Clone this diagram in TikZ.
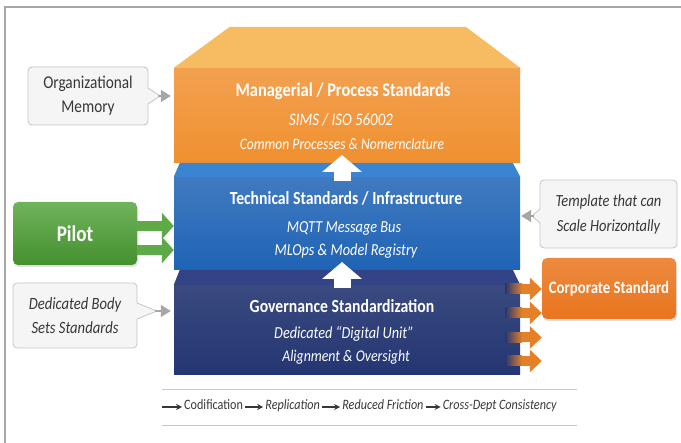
\documentclass[tikz,border=0pt]{standalone}
\usepackage{fontspec}
\setmainfont{Carlito}[FakeStretch=0.85]
\usetikzlibrary{positioning,arrows.meta,shadows}

\definecolor{mgrfront}{RGB}{240,144,48}
\definecolor{mgrtop}{RGB}{247,188,98}
\definecolor{techfront}{RGB}{31,99,181}
\definecolor{techtop}{RGB}{58,132,210}
\definecolor{govfront}{RGB}{36,54,114}
\definecolor{govtop}{RGB}{50,68,134}
\definecolor{pilotgreen}{RGB}{76,160,52}
\definecolor{corporange}{RGB}{233,117,30}
\definecolor{outarrow}{RGB}{228,128,40}
\definecolor{flowgray}{RGB}{55,55,55}
\definecolor{notefill}{RGB}{245,245,245}
\definecolor{noteline}{RGB}{196,196,196}

\tikzset{
  front/.style={minimum width=346pt, inner sep=0pt},
  headline/.style={text=white, font=\bfseries\fontsize{18.5}{20}\selectfont},
  subline/.style={text=white, font=\itshape\fontsize{16.8}{18}\selectfont},
  note/.style={fill=notefill, draw=noteline, line width=0.8pt, rounded corners=4pt,
    align=center, text=flowgray, inner sep=0pt, font=\fontsize{17}{24}\selectfont},
  notetip/.style={gray!70, line width=1.5pt, -{Triangle[length=10pt,width=12pt]}},
  uparrow/.style={white, line width=17pt, -{Triangle[length=17pt,width=39pt]}},
  pilotarrow/.style={pilotgreen!90!white, line width=10pt, -{Triangle[length=12pt,width=26pt]}},
  corparrow/.style={outarrow, line width=10pt, -{Triangle[length=12pt,width=22pt]}},
  flow/.style={text=flowgray, inner sep=2pt, text height=1.6ex, text depth=0.5ex,
    font=\fontsize{14.3}{16}\selectfont},
  flowarrow/.style={flowgray, line width=1.3pt, -{Stealth[length=6pt,width=6pt]}},
}

\begin{document}
\begin{tikzpicture}[x=1pt,y=-1pt]
\useasboundingbox (0,0) rectangle (681,443);
\draw[gray!70, line width=1.3pt] (5,443) -- (5,7) -- (681,7);

% three stacked blocks
\node[front, minimum height=95pt, top color=mgrfront!85!white, bottom color=mgrfront] (mgr) at (347,115.5) {};
\node[front, minimum height=93pt, top color=techfront!85!white, bottom color=techfront] (tech) at (347,223.5) {};
\node[front, minimum height=90pt, top color=govfront!90!white, bottom color=govfront] (gov) at (347,330) {};

\fill[mgrtop] (mgr.north west) -- ++(56,-41) -- ++(236,0) -- (mgr.north east) -- cycle;
\fill[techtop] (tech.north west) -- ++(6,-14) -- ++(333,0) -- (tech.north east) -- cycle;
\fill[govtop] (gov.north west) -- ++(6,-15) -- ++(333,0) -- (gov.north east) -- cycle;

\node[headline, font=\bfseries\fontsize{19.3}{21}\selectfont] (mgrhead) at (343,91) {Managerial / Process Standards};
\node[subline, font=\itshape\fontsize{17.5}{19}\selectfont] (mgrsub) at (341,120) {SIMS / ISO 56002};
\node[subline, font=\itshape\fontsize{16}{18}\selectfont] (mgrsubb) at (342,144) {Common Processes \& Nomernclature};

\node[headline] (techhead) at (346,198) {Technical Standards / Infrastructure};
\node[subline] (techsub) at (344,228) {MQTT Message Bus};
\node[subline] (techsubb) at (346,251) {MLOps \& Model Registry};

\node[headline] (govhead) at (342,306) {Governance Standardization};
\node[subline] (govsub) at (344,334) {Dedicated ``Digital Unit''};
\node[subline, font=\itshape\fontsize{16.3}{18}\selectfont] (govsubb) at (346,357) {Alignment \& Oversight};

% white arrows between blocks
\coordinate (upa) at (342,181);
\coordinate (upb) at (342,288);
\draw[uparrow] (upa) -- (upa |- 0,155);
\draw[uparrow] (upb) -- (upb |- 0,262);

% pilot on the left
\node[minimum width=124pt, minimum height=63pt, rounded corners=5pt,
  top color=pilotgreen!80!white, bottom color=pilotgreen!90!black,
  drop shadow={opacity=0.25,shadow xshift=1pt,shadow yshift=-2pt},
  text=white, font=\bfseries\fontsize{22.5}{24}\selectfont] (pilot) at (75,233.5) {Pilot};
\coordinate (pa) at (137,226);
\coordinate (pb) at (137,250);
\draw[pilotarrow] (pa) -- (pa -| tech.west);
\draw[pilotarrow] (pb) -- (pb -| tech.west);

% corporate standard on the right
\node[minimum width=134pt, minimum height=61pt, rounded corners=5pt,
  top color=corporange!85!white, bottom color=corporange,
  drop shadow={opacity=0.25,shadow xshift=1pt,shadow yshift=-2pt},
  text=white, font=\bfseries\fontsize{17.4}{19}\selectfont] (corp) at (609,288.5) {Corporate Standard};
\coordinate (oa) at (505,289);
\coordinate (ob) at (505,313);
\coordinate (oc) at (505,337.5);
\coordinate (od) at (505,361);
\draw[corparrow] (oa) -- (oa -| corp.west);
\draw[corparrow] (ob) -- (ob -| corp.west);
\draw[corparrow] (oc) -- (oc -| corp.west);
\draw[corparrow] (od) -- (od -| corp.west);
\shade[left color=govfront, right color=outarrow] (505,284) rectangle (522,294);
\shade[left color=govfront, right color=outarrow] (505,308) rectangle (522,318);
\shade[left color=govfront, right color=outarrow] (505,332.5) rectangle (522,342.5);
\shade[left color=govfront, right color=outarrow] (505,356) rectangle (522,366);

% callouts
\node[note, minimum width=120pt, minimum height=58pt, font=\fontsize{18}{24}\selectfont] (orgmem) at (88,96) {Organizational\\Memory};
\fill[notefill] (147,88) -- (160,96) -- (147,104) -- cycle;
\draw[noteline, line width=0.8pt] (148,88) -- (160,96) -- (148,104);
\coordinate (orgtip) at (158,96);
\draw[notetip] (orgtip) -- ([xshift=-3pt]orgtip -| mgr.west);

\node[note, minimum width=124pt, minimum height=65pt, font=\itshape\fontsize{17.2}{24}\selectfont] (body) at (75,315.5) {Dedicated Body\\Sets Standards};
\fill[notefill] (136,303) -- (157,311) -- (136,319) -- cycle;
\draw[noteline, line width=0.8pt] (137,303) -- (157,311) -- (137,319);
\coordinate (bodytip) at (155,311);
\draw[notetip] (bodytip) -- ([xshift=-3pt]bodytip -| gov.west);

\node[note, minimum width=137pt, minimum height=68pt, font=\itshape\fontsize{17}{25}\selectfont] (tmpl) at (608.5,214) {Template that can\\Scale Horizontally};
\fill[notefill] (541,209) -- (532,216) -- (541,223) -- cycle;
\draw[noteline, line width=0.8pt] (540,209) -- (532,216) -- (540,223);
\coordinate (tmpltip) at (534,216);
\draw[notetip] (tmpltip) -- ([xshift=1pt]tmpltip -| tech.east);

% flow line at the bottom
\draw[gray!45, line width=1pt] (162,390) -- (577,390);
\draw[gray!45, line width=1pt] (162,426) -- (577,426);
\coordinate (flowstart) at (162,407);
\node[flow, anchor=west] (codif) at (182,407) {Codification};
\node[flow, right=18pt of codif, font=\itshape\fontsize{14.3}{16}\selectfont] (replic) {Replication};
\node[flow, right=18pt of replic, font=\itshape\fontsize{14.3}{16}\selectfont] (friction) {Reduced Friction};
\node[flow, right=15pt of friction, font=\itshape\fontsize{14.3}{16}\selectfont] (consist) {Cross-Dept Consistency};
\draw[flowarrow] (flowstart) -- (codif);
\draw[flowarrow] (codif) -- (replic);
\draw[flowarrow] (replic) -- (friction);
\draw[flowarrow] (friction) -- (consist);
\end{tikzpicture}
\end{document}
